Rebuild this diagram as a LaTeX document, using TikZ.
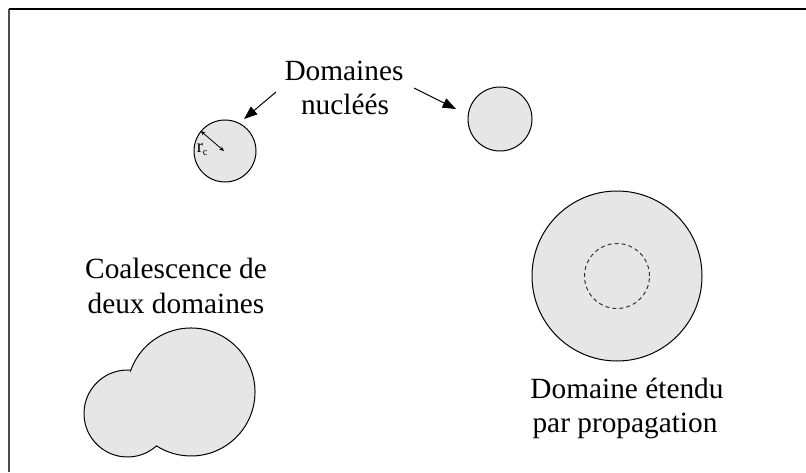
\documentclass[tikz,border=0pt]{standalone}
\usepackage{fontspec}
\setmainfont{Liberation Serif}
\usetikzlibrary{arrows.meta}
\definecolor{domfill}{RGB}{230,230,230}
\tikzset{
  dom/.style={fill=domfill, draw=black, line width=0.75pt},
  lbl/.style={anchor=base, inner sep=0pt, font=\fontsize{22}{26}\selectfont},
  pointer/.style={line width=0.75pt, -{Triangle[length=10pt,width=7.5pt]}},
  radiusarrow/.style={line width=0.6pt, {Stealth[length=3.5pt,width=3pt]}-{Stealth[length=3.5pt,width=3pt]}},
  dashring/.style={draw=black!80, line width=0.75pt, dash pattern=on 3pt off 2.3pt}
}
\begin{document}
\begin{tikzpicture}[x=0.75pt,y=0.75pt]
\useasboundingbox (0,0) rectangle (806,472);
% frame (open at right and bottom)
\draw[line width=0.9pt, black!70] (9,0) -- (9,463);
\draw[line width=1.4pt, black] (8.5,463) -- (806,463);

% nucleated domains
\filldraw[dom] (225,321) circle[radius=31];
\filldraw[dom] (500,353) circle[radius=32];
\coordinate (rcA) at (200.7,341);
\coordinate (rcB) at (224,321);
\draw[radiusarrow] (rcA) -- (rcB);
\node[anchor=base west, inner sep=0pt, font=\fontsize{14}{14}\selectfont] (rc) at (196.5,320)
  {r\raisebox{-0.45ex}{\fontsize{8}{8}\selectfont c}};

\node[lbl] (t1) at (344,391) {Domaines};
\node[lbl] (t2) at (345,357) {nucléés};
\coordinate (a1s) at (276,380);
\coordinate (a1e) at (244,353);
\coordinate (a2s) at (414,384);
\coordinate (a2e) at (456,363);
\draw[pointer] (a1s) -- (a1e);
\draw[pointer] (a2s) -- (a2e);

% coalescence
\node[lbl] (t3) at (176,194) {Coalescence de};
\node[lbl] (t4) at (176,159) {deux domaines};
\filldraw[dom] (130.85,101.87) arc[start angle=160.02, end angle=-122.61, radius=64]
  arc[start angle=-48.17, end angle=-274.42, radius=43.5] -- cycle;

% extended domain
\filldraw[dom] (617,196) circle[radius=85];
\draw[dashring] (617,196) circle[radius=32.5];
\node[lbl] (t5) at (627,74) {Domaine étendu};
\node[lbl] (t6) at (625,40) {par propagation};
\end{tikzpicture}
\end{document}
